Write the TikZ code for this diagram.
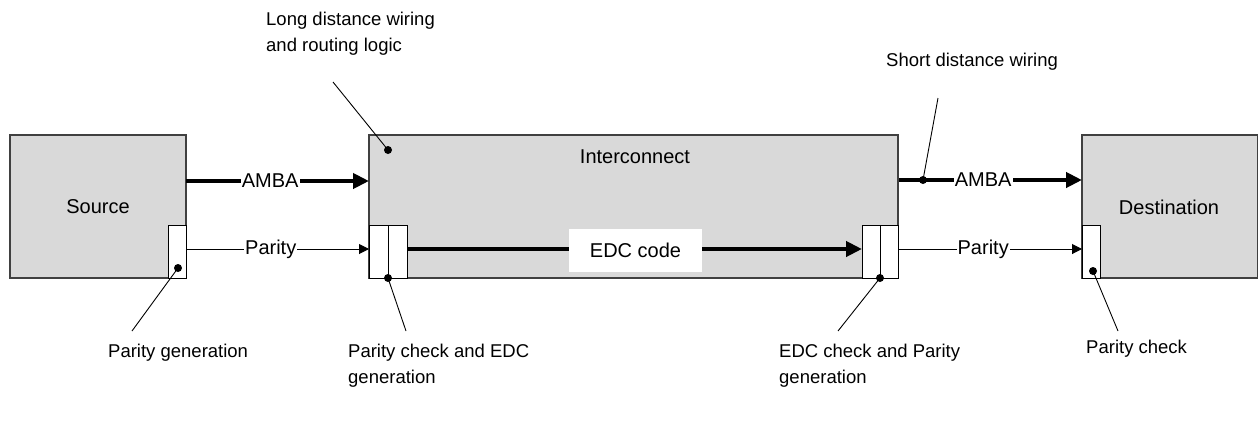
\documentclass[tikz,border=0pt]{standalone}
\usepackage{fontspec}
\setmainfont{Liberation Sans}
\usetikzlibrary{arrows.meta}
\definecolor{boxgray}{HTML}{D9D9D9}
\definecolor{edgegray}{HTML}{404040}
\begin{document}
\begin{tikzpicture}[x=1pt,y=-1pt,
  block/.style={draw=edgegray,line width=1.3pt,fill=boxgray,inner sep=0pt,outer sep=0pt,anchor=north west},
  pblock/.style={draw=black,line width=0.9pt,fill=white,inner sep=0pt,outer sep=0pt,anchor=north west},
  boxlabel/.style={font=\fontsize{20}{24}\selectfont,inner sep=0pt},
  note/.style={font=\fontsize{18.5}{26}\selectfont,align=left,anchor=west,inner sep=0pt},
  wirelabel/.style={font=\fontsize{20}{24}\selectfont,fill=white,inner sep=1pt},
  buswire/.style={line width=4pt,-{Triangle[length=16pt,width=15pt]}},
  thinwire/.style={line width=1pt,-{Triangle[length=10pt,width=10pt]}},
  pointer/.style={line width=0.9pt},
  dotmark/.style={circle,fill=black,inner sep=0pt,minimum size=8pt}]
\useasboundingbox (0,0) rectangle (1258,421);

% main blocks
\node[block,minimum width=176pt,minimum height=143pt] (src) at (10,135) {};
\node[block,minimum width=529pt,minimum height=143pt] (ic) at (369,135) {};
\node[block,minimum width=175.5pt,minimum height=143pt] (dst) at (1082,135) {};
\node[boxlabel] (srclbl) at (98,207) {Source};
\node[boxlabel] (iclbl) at (635,157) {Interconnect};
\node[boxlabel] (dstlbl) at (1169,207) {Destination};

% parity / EDC blocks
\node[pblock,minimum width=18pt,minimum height=53pt] (pg) at (168,225) {};
\node[pblock,minimum width=19pt,minimum height=53pt] (pcA) at (369,225) {};
\node[pblock,minimum width=19pt,minimum height=53pt] (pcB) at (388,225) {};
\node[pblock,minimum width=18pt,minimum height=53pt] (ecA) at (862,225) {};
\node[pblock,minimum width=18pt,minimum height=53pt] (ecB) at (880,225) {};
\node[pblock,minimum width=18pt,minimum height=53pt] (pchk) at (1082,225) {};

% wires
\coordinate (amb1) at (186,181);
\coordinate (amb2) at (899,180);
\coordinate (par1) at (187,249);
\coordinate (par2) at (899,249);
\draw[buswire] (amb1) -- node[wirelabel,pos=0.46] (amblbl1) {AMBA} (amb1 -| ic.west);
\draw[buswire] (amb2) -- node[wirelabel,pos=0.46] (amblbl2) {AMBA} (amb2 -| dst.west);
\draw[thinwire] (par1) -- node[wirelabel,pos=0.46] (parlbl1) {Parity} (par1 -| ic.west);
\draw[thinwire] (par2) -- node[wirelabel,pos=0.46] (parlbl2) {Parity} (par2 -| dst.west);
\draw[buswire] (pcB.east |- 0,249) -- (ecA.west |- 0,249);
\node[fill=white,minimum width=133pt,minimum height=43pt,inner sep=0pt,font=\fontsize{20}{24}\selectfont] (edc) at (635.5,250.5) {EDC code};

% dots
\node[dotmark] (d1) at (178,268) {};
\node[dotmark] (d2) at (388,278) {};
\node[dotmark] (d3) at (388,150) {};
\node[dotmark] (d4) at (923,180) {};
\node[dotmark] (d5) at (880,278) {};
\node[dotmark] (d6) at (1093,271) {};

% pointer ends
\coordinate (e1) at (132,331);
\coordinate (e2) at (406,331);
\coordinate (e3) at (333,82);
\coordinate (e4) at (938,98);
\coordinate (e5) at (838,331);
\coordinate (e6) at (1118,331);
\draw[pointer] (d1.center) -- (e1);
\draw[pointer] (d2.center) -- (e2);
\draw[pointer] (d3.center) -- (e3);
\draw[pointer] (d4.center) -- (e4);
\draw[pointer] (d5.center) -- (e5);
\draw[pointer] (d6.center) -- (e6);

% annotations
\node[note,anchor=north west] (n1) at (266,12) {Long distance wiring\\and routing logic};
\node[note] (n2) at (886,62) {Short distance wiring};
\node[note] (n3) at (108,353) {Parity generation};
\node[note,anchor=north west] (n4) at (348,344) {Parity check and EDC\\generation};
\node[note,anchor=north west] (n5) at (779,344) {EDC check and Parity\\generation};
\node[note] (n6) at (1086,349) {Parity check};
\end{tikzpicture}
\end{document}
